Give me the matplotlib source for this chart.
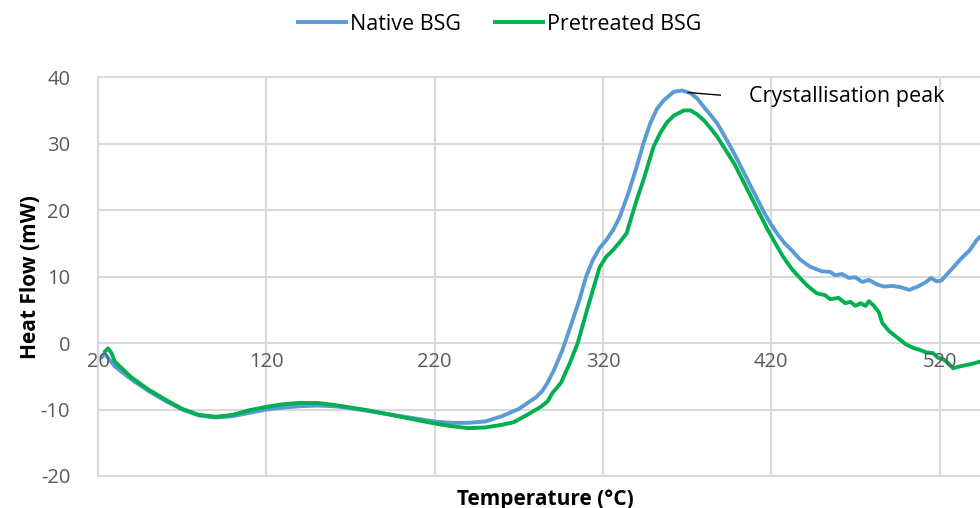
import numpy as np
import matplotlib
matplotlib.use("Agg")
import matplotlib.pyplot as plt
from matplotlib.lines import Line2D

plt.rcParams['font.family'] = ['Open Sans', 'DejaVu Sans']
plt.rcParams['axes.unicode_minus'] = False

# temperature (°C) and heat flow (mW)
native_t = [22, 24, 27, 30, 40, 50, 60, 70, 80, 90, 100, 110, 120, 130, 140, 150,
            160, 170, 180, 190, 200, 210, 220, 230, 240, 250, 260, 270, 280, 284,
            287, 291, 296, 301, 306, 310, 314, 318, 322, 326, 330, 335, 340, 344,
            348, 352, 356, 362, 367, 372, 376, 380, 384, 388, 393, 398, 403, 408,
            412, 416, 420, 424, 428, 432, 437, 443, 450, 455, 458, 462, 466, 470,
            474, 478, 483, 487, 492, 497, 502, 507, 512, 515, 518, 521, 526, 532,
            538, 542, 544]
native_hf = [-2.2, -1.6, -2.6, -3.5, -5.5, -7.2, -8.7, -10.0, -10.9, -11.2, -11.0,
             -10.5, -10.0, -9.7, -9.5, -9.4, -9.5, -9.8, -10.2, -10.6, -11.0, -11.4,
             -11.8, -12.0, -12.0, -11.8, -11.0, -9.9, -8.2, -7.2, -6.0, -4.0, -1.0,
             2.7, 6.5, 10.0, 12.5, 14.3, 15.5, 17.0, 19.0, 22.5, 26.5, 30.0, 33.0,
             35.2, 36.5, 37.8, 38.0, 37.6, 36.8, 35.5, 34.3, 33.0, 30.8, 28.5, 26.0,
             23.5, 21.5, 19.5, 17.8, 16.3, 15.0, 14.0, 12.6, 11.5, 10.8, 10.7, 10.2,
             10.4, 9.8, 9.9, 9.2, 9.5, 8.8, 8.5, 8.6, 8.4, 8.0, 8.5, 9.2, 9.8, 9.3,
             9.4, 10.8, 12.5, 14.0, 15.5, 16.0]

pretreated_t = [24, 26, 28, 30, 35, 40, 50, 60, 70, 80, 90, 100, 110, 120, 130, 140,
                150, 160, 170, 180, 190, 200, 210, 220, 230, 240, 250, 260, 267, 275,
                283, 287, 290, 295, 300, 305, 311, 318, 322, 326, 330, 334, 337, 340,
                344, 347, 350, 354, 358, 362, 368, 372, 376, 380, 384, 388, 393, 398,
                403, 408, 413, 418, 422, 427, 432, 437, 442, 447, 452, 455, 460, 464,
                467, 470, 473, 476, 478, 481, 484, 486, 490, 495, 500, 505, 508, 512,
                516, 519, 522, 525, 528, 532, 538, 544]
pretreated_hf = [-1.3, -0.8, -1.5, -2.8, -4.0, -5.2, -7.0, -8.5, -9.9, -10.8, -11.1,
                 -10.8, -10.1, -9.6, -9.2, -9.0, -9.0, -9.3, -9.7, -10.1, -10.6, -11.1,
                 -11.6, -12.1, -12.5, -12.8, -12.7, -12.3, -11.9, -10.8, -9.6, -8.8,
                 -7.5, -6.0, -3.2, 0.0, 5.4, 11.4, 13.0, 14.0, 15.2, 16.5, 19.0, 21.5,
                 24.5, 27.0, 29.5, 31.6, 33.2, 34.2, 35.0, 35.0, 34.4, 33.5, 32.3, 31.0,
                 29.0, 27.0, 24.5, 22.0, 19.5, 17.0, 15.2, 13.0, 11.2, 9.8, 8.5, 7.5,
                 7.2, 6.6, 6.8, 6.0, 6.2, 5.6, 6.0, 5.6, 6.3, 5.6, 4.6, 3.0, 1.8, 0.8,
                 -0.2, -0.8, -1.0, -1.4, -1.5, -2.2, -2.4, -3.0, -3.8, -3.5, -3.2, -2.8]

xticks = [20, 120, 220, 320, 420, 520]
yticks = [-20, -10, 0, 10, 20, 30, 40]

blue = '#5B9BD5'
green = '#00B050'
grid_c = '#D9D9D9'
tick_c = '#595959'

fig = plt.figure(figsize=(9.8, 5.08), dpi=100)
ax = fig.add_axes([0.1, 0.063, 0.9, 0.785])

ax.plot(native_t, native_hf, color=blue, lw=2.8, solid_capstyle='round',
        solid_joinstyle='round')
ax.plot(pretreated_t, pretreated_hf, color=green, lw=2.8, solid_capstyle='round',
        solid_joinstyle='round')

ax.set_xlim(20, 544)
ax.set_ylim(-20, 40)
ax.set_xticks(xticks)
ax.set_yticks(yticks)
ax.grid(True, color=grid_c, lw=1.5)
ax.set_axisbelow(True)
for s in ['left', 'bottom', 'top']:
    ax.spines[s].set_color(grid_c)
    ax.spines[s].set_linewidth(1.5)
ax.spines['right'].set_visible(False)
ax.tick_params(length=0, labelbottom=False, labelsize=14.5, labelcolor=tick_c, pad=20)

# x tick labels sit under the zero line
for t in xticks:
    ax.text(t, -1.3, str(t), ha='center', va='top', fontsize=14.5, color=tick_c)

ax.set_ylabel('Heat Flow (mW)', fontsize=15, fontweight='bold', labelpad=0)
fig.text(0.556, 0.017, 'Temperature (°C)', ha='center', va='center',
         fontsize=15, fontweight='bold')

# peak annotation
ax.plot([370.6, 389.7], [37.7, 37.3], color='black', lw=1)
ax.text(406.5, 37.1, 'Crystallisation peak', ha='left', va='center', fontsize=15.5)

handles = [Line2D([], [], color=blue, lw=2.8), Line2D([], [], color=green, lw=2.8)]
fig.legend(handles, ['Native BSG', 'Pretreated BSG'], loc='center',
           bbox_to_anchor=(0.51, 0.952), ncol=2, frameon=False, fontsize=15.5,
           handlelength=2.2, handletextpad=0.2, columnspacing=1.6)

fig.savefig('out.png', dpi=100)
